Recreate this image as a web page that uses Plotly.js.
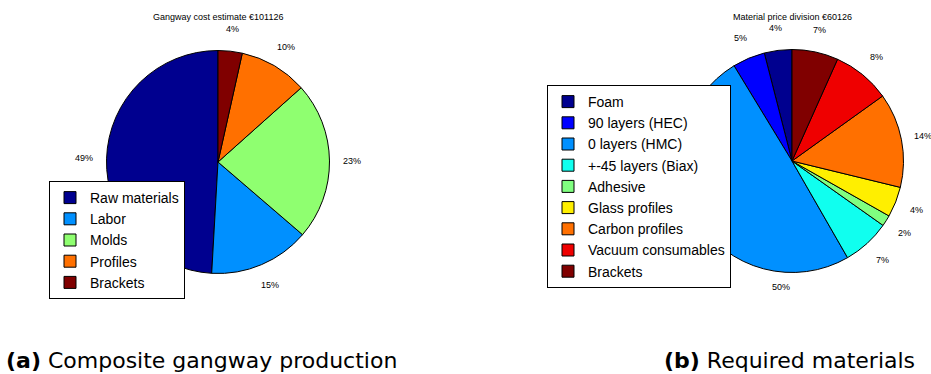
<!DOCTYPE html>
<html>
<head>
<meta charset="utf-8">
<script src="https://cdn.plot.ly/plotly-3.0.1.min.js"></script>
<style>
html,body{margin:0;padding:0;background:#fff;}
#chart{width:931px;height:374px;}
</style>
</head>
<body>
<div id="chart"></div>
<script>
// Chart (a): gangway cost estimate (share of total, %)
const costLabels = ["Raw materials", "Labor", "Molds", "Profiles", "Brackets"];
const costValues = [49.1, 14.6, 22.9, 9.9, 3.5];
const costColors = ["#00008F", "#0090FF", "#8FFF70", "#FF7000", "#800000"];
const costTitle = "Gangway cost estimate €101126";
const costCaption = "<b>(a)</b> Composite gangway production";

// Chart (b): material price division (share of total, %)
// ("Brackets" carries a zero-width space so its legend entry is not merged with chart (a))
const matLabels = ["Foam", "90 layers (HEC)", "0 layers (HMC)", "+-45 layers (Biax)", "Adhesive",
                   "Glass profiles", "Carbon profiles", "Vacuum consumables", "Brackets\u200b"];
const matValues = [4.0, 4.7, 49.6, 6.9, 1.6, 4.4, 13.7, 8.4, 6.7];
const matColors = ["#00008F", "#0000FF", "#0090FF", "#10FFEF", "#80FF80",
                   "#FFEF00", "#FF7000", "#EF0000", "#800000"];
const matTitle = "Material price division €60126";
const matCaption = "<b>(b)</b> Required materials";

const W = 931, H = 374;
const pieA = { cx: 218, cy: 162, r: 111.5 };
const pieB = { cx: 792, cy: 161, r: 111.5 };
// the big slice's label sits below the pie in the reference (moved out from behind the legend)
const matLabelMoved = { index: 2, x: 781, y: 287 };

function dom(p) {
  return { x: [(p.cx - p.r) / W, (p.cx + p.r) / W], y: [1 - (p.cy + p.r) / H, 1 - (p.cy - p.r) / H] };
}
function total(vals) { return vals.reduce((a, b) => a + b, 0); }
// first slice starts at 12 o'clock and the slices run counterclockwise
function startRot(vals) { return -360 * vals[0] / total(vals); }

const baseFont = { family: "Liberation Sans, Arial, sans-serif", size: 9, color: "#000" };

// percentage labels at 1.2 x radius on each slice's mid angle
function pctLabels(vals, p, moved) {
  const t = total(vals);
  let cum = 0;
  return vals.map((v, i) => {
    const mid = (cum + v / 2) / t * 2 * Math.PI;
    cum += v;
    let x = p.cx - 1.2 * p.r * Math.sin(mid);
    let y = p.cy - 1.2 * p.r * Math.cos(mid);
    if (moved && moved.index === i) { x = moved.x; y = moved.y; }
    return { text: Math.round(100 * v / t) + "%", x: x / W, y: 1 - y / H,
             xref: "paper", yref: "paper", xanchor: "center", yanchor: "middle",
             showarrow: false, font: baseFont };
  });
}

const traces = [
  {
    type: "pie", labels: costLabels, values: costValues, sort: false,
    direction: "counterclockwise", rotation: startRot(costValues),
    marker: { colors: costColors, line: { color: "#000", width: 1 } },
    textinfo: "none", automargin: false,
    domain: dom(pieA), legend: "legend", hoverinfo: "label+value+percent"
  },
  {
    type: "pie", labels: matLabels, values: matValues, sort: false,
    direction: "counterclockwise", rotation: startRot(matValues),
    marker: { colors: matColors, line: { color: "#000", width: 1 } },
    textinfo: "none", automargin: false,
    domain: dom(pieB), legend: "legend2", hoverinfo: "label+value+percent"
  }
];

const legendFont = { family: "Liberation Sans, Arial, sans-serif", size: 14, color: "#000" };
const capFont = { family: "DejaVu Sans, sans-serif", size: 22, color: "#000" };
const layout = {
  width: W, height: H,
  margin: { l: 0, r: 0, t: 0, b: 0 },
  paper_bgcolor: "#fff", plot_bgcolor: "#fff",
  showlegend: true,
  legend: {
    x: 49 / W, y: 1 - 181 / H, xanchor: "left", yanchor: "top",
    bgcolor: "#fff", bordercolor: "#000", borderwidth: 1, font: legendFont,
    tracegroupgap: 0, itemclick: false
  },
  legend2: {
    x: 547 / W, y: 1 - 85 / H, xanchor: "left", yanchor: "top",
    bgcolor: "#fff", bordercolor: "#000", borderwidth: 1, font: legendFont,
    tracegroupgap: 0, itemclick: false
  },
  annotations: [
    { text: costTitle, x: pieA.cx / W, y: 1 - 17 / H, xref: "paper", yref: "paper",
      xanchor: "center", yanchor: "middle", showarrow: false, font: baseFont },
    { text: matTitle, x: pieB.cx / W, y: 1 - 17 / H, xref: "paper", yref: "paper",
      xanchor: "center", yanchor: "middle", showarrow: false, font: baseFont },
    { text: costCaption, x: 4 / W, y: 1 - 360 / H, xref: "paper", yref: "paper",
      xanchor: "left", yanchor: "middle", showarrow: false, font: capFont },
    { text: matCaption, x: 917 / W, y: 1 - 360 / H, xref: "paper", yref: "paper",
      xanchor: "right", yanchor: "middle", showarrow: false, font: capFont }
  ].concat(pctLabels(costValues, pieA, null), pctLabels(matValues, pieB, matLabelMoved))
};

Plotly.newPlot("chart", traces, layout, { staticPlot: true, displayModeBar: false });
</script>
</body>
</html>
